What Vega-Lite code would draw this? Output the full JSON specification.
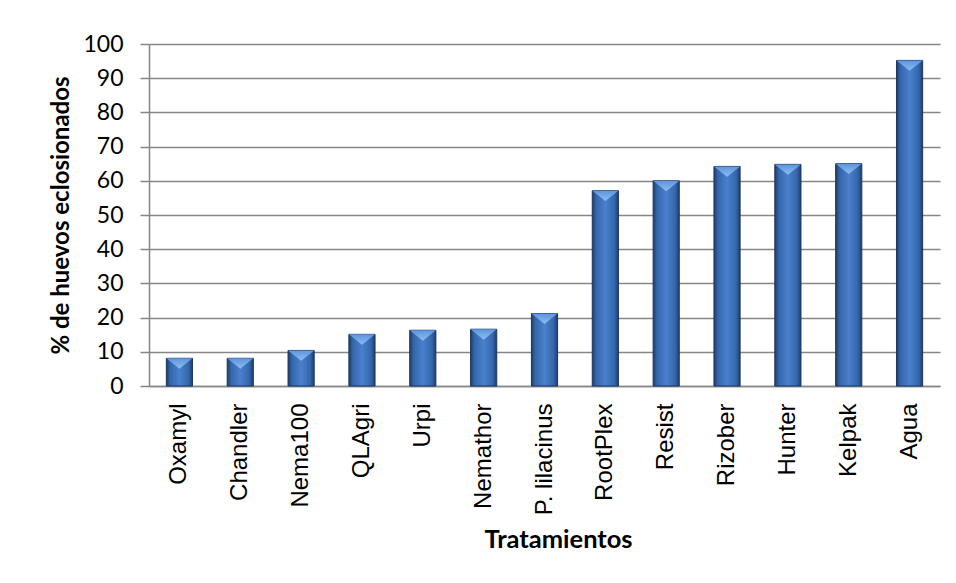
{
  "$schema": "https://vega.github.io/schema/vega-lite/v6.json",
  "autosize": "none",
  "width": 791,
  "height": 342,
  "padding": {"left": 149, "top": 44, "right": 16, "bottom": 197},
  "background": "white",
  "config": {"view": {"stroke": null}},
  "data": {"values": [
    {"t": "Oxamyl", "v": 8.1},
    {"t": "Chandler", "v": 8.1},
    {"t": "Nema100", "v": 10.4},
    {"t": "QLAgri", "v": 15.1},
    {"t": "Urpi", "v": 16.3},
    {"t": "Nemathor", "v": 16.6},
    {"t": "P. lilacinus", "v": 21.2},
    {"t": "RootPlex", "v": 57.1},
    {"t": "Resist", "v": 60.0},
    {"t": "Rizober", "v": 64.2},
    {"t": "Hunter", "v": 64.8},
    {"t": "Kelpak", "v": 65.0},
    {"t": "Agua", "v": 95.2}
  ]},
  "encoding": {
    "x": {
      "field": "t", "type": "nominal", "sort": null,
      "scale": {"paddingInner": 0.57, "paddingOuter": 0.285},
      "axis": {
        "title": "Tratamientos",
        "titleFont": "Lato", "titleFontSize": 25.5, "titleFontWeight": "bold", "titleColor": "black",
        "titlePadding": 13, "titleX": 409,
        "labelFont": "Liberation Sans", "labelFontSize": 24, "labelColor": "black",
        "labelAngle": -90, "labelAlign": "right", "labelBaseline": "middle", "labelPadding": 17,
        "ticks": false, "domainColor": "#868686", "domainWidth": 1.5, "labelOverlap": false
      }
    },
    "y": {
      "field": "v", "type": "quantitative",
      "scale": {"domain": [0, 100], "nice": false},
      "axis": {
        "title": "% de huevos eclosionados",
        "titleFont": "Lato", "titleFontSize": 24, "titleFontWeight": "bold", "titleColor": "black",
        "titlePadding": 9,
        "values": [0, 10, 20, 30, 40, 50, 60, 70, 80, 90, 100],
        "labelFont": "Lato", "labelFontSize": 23, "labelColor": "black", "labelPadding": 17,
        "tickSize": 9, "tickColor": "#868686", "tickWidth": 1.5,
        "domainColor": "#868686", "domainWidth": 1.5,
        "grid": true, "gridColor": "#868686", "gridWidth": 1.5
      }
    }
  },
  "layer": [
    {
      "mark": {
        "type": "bar",
        "stroke": "#1c3660", "strokeWidth": 1,
        "fill": {
          "gradient": "linear", "x1": 0, "y1": 0, "x2": 1, "y2": 0,
          "stops": [
            {"offset": 0, "color": "#1f3d6b"},
            {"offset": 0.15, "color": "#3466aa"},
            {"offset": 0.5, "color": "#4a80cc"},
            {"offset": 0.85, "color": "#3466aa"},
            {"offset": 1, "color": "#1f3d6b"}
          ]
        }
      }
    },
    {
      "mark": {
        "type": "point", "filled": true, "size": 676,
        "shape": "M-1,0L1,0L0,0.8Z",
        "fill": {
          "gradient": "linear", "x1": 0, "y1": 0, "x2": 0, "y2": 1,
          "stops": [
            {"offset": 0, "color": "#5d95de"},
            {"offset": 1, "color": "#8cbdf2"}
          ]
        },
        "opacity": 1, "strokeWidth": 0
      }
    }
  ]
}
